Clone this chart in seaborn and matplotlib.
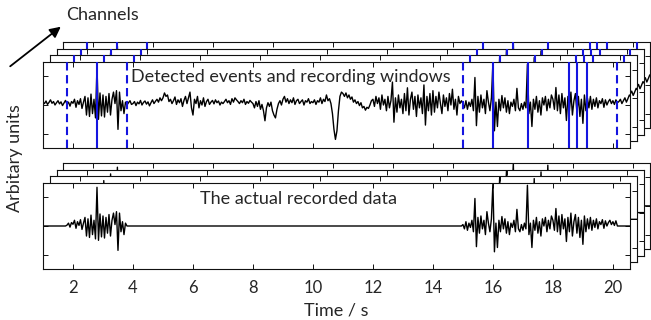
import numpy as np
import matplotlib
matplotlib.use("Agg")
import matplotlib.pyplot as plt
from matplotlib.patches import FancyArrowPatch
import seaborn as sns

# ---- data -------------------------------------------------------------
# Continuous trace, sampled every 0.05 s from t = 1.00 s (one row per second)
t_start = 1.0
dt = 0.05
trace = [
    0.10, 0.05, 0.14, 0.02, 0.09, 0.18, 0.06, 0.12, 0.00, 0.08, 0.15, 0.04, 0.11, -0.02, 0.07, 0.16, 0.03, 0.10, -0.04, 0.12,
    0.06, 0.20, -0.08, 0.15, 0.02, 0.22, -0.12, 0.10, 0.30, -0.35, 0.25, -0.40, 0.38, -0.30, 0.20, -0.45, 1.35, -0.50, 0.42, -0.38,
    0.35, -0.42, 0.30, -0.25, 0.40, -0.35, 0.20, 0.45, 0.05, 0.50, -0.85, 0.45, -0.20, 0.15, -0.30, 0.10, 0.00, 0.08, 0.15, 0.02,
    0.05, 0.12, -0.02, 0.10, 0.04, 0.16, 0.00, 0.09, 0.14, 0.03, 0.11, -0.03, 0.08, 0.18, 0.05, 0.13, 0.20, 0.10, 0.25, 0.15,
    0.25, 0.42, 0.30, 0.35, 0.12, 0.20, 0.05, 0.15, 0.28, 0.02, 0.18, 0.08, 0.22, -0.05, 0.16, 0.30, 0.05, 0.25, 0.45, -0.10,
    -0.35, 0.20, 0.05, 0.30, -0.10, 0.15, 0.00, 0.25, -0.05, 0.12, 0.20, 0.02, 0.10, 0.16, 0.04, 0.18, 0.08, 0.14, 0.00, 0.10,
    0.05, 0.12, 0.20, 0.08, 0.15, 0.02, 0.22, 0.10, 0.25, 0.18, 0.12, 0.05, 0.15, 0.08, 0.20, 0.02, 0.12, 0.06, 0.16, 0.10,
    0.05, -0.10, 0.12, -0.05, 0.15, -0.15, 0.02, -0.20, -0.55, -0.10, 0.08, -0.05, 0.10, -0.20, -0.35, -0.45, -0.15, 0.05, 0.15, 0.00,
    0.20, 0.30, 0.10, 0.22, 0.05, 0.18, 0.08, 0.25, 0.02, 0.15, 0.20, 0.05, 0.12, 0.18, 0.00, 0.15, 0.10, 0.22, 0.05, 0.12,
    0.08, 0.18, 0.02, 0.15, 0.10, 0.25, 0.05, 0.20, 0.12, 0.35, 0.15, 0.22, 0.05, -0.30, -0.85, -1.20, -0.90, -0.20, 0.30, 0.45,
    0.40, 0.30, 0.42, 0.25, 0.35, 0.20, 0.28, 0.10, 0.18, 0.05, 0.12, -0.02, 0.08, -0.10, -0.05, -0.18, -0.08, -0.12, 0.00, 0.15,
    0.20, -0.05, 0.30, 0.05, 0.25, -0.15, 0.35, 0.00, 0.20, -0.20, 0.30, -0.10, 0.15, 0.80, -0.60, 0.25, -0.25, 0.35, -0.10, 0.20,
    -0.30, 0.40, -0.20, 0.60, -0.35, 0.20, 0.45, -0.15, 0.30, -0.40, 0.35, -0.10, 0.25, -0.30, 0.70, -0.70, 0.30, -0.20, 0.40, -0.35,
    0.50, -0.25, 0.30, -0.10, 0.45, 0.05, -0.30, 0.35, -0.05, 0.25, -0.20, 0.40, 0.00, 0.55, -0.15, 0.20, -0.35, 0.30, 0.05, 0.15,
    0.05, -0.10, 0.15, -0.15, 0.10, -0.05, 0.20, -0.20, 0.96, -0.72, 0.30, -0.25, 0.35, -0.10, 0.20, -0.30, 0.50, 0.10, -0.20, 0.25,
    1.49, -0.90, 0.10, -0.75, 0.20, -0.20, 0.33, -0.10, 0.25, -0.25, 0.15, -0.30, 0.10, -0.05, 0.20, -0.20, 0.58, -0.10, -0.20, 0.05,
    -0.15, 0.10, -0.10, 1.42, -0.30, 0.10, -0.75, 0.20, -0.15, 0.30, -0.25, 0.15, -0.35, 0.25, 0.00, 0.30, -0.20, 0.20, -0.10, 0.35,
    0.20, -0.15, 0.61, -0.20, 0.35, -0.30, 0.40, -0.10, 0.25, -0.54, 0.30, -0.20, 0.45, -0.35, 0.15, 0.40, -0.25, 0.30, -0.40, 0.20,
    -0.64, 0.35, -0.20, 0.25, -0.10, 0.30, -0.15, 0.20, -0.05, 0.25, -0.10, 0.15, 0.05, 0.22, -0.08, 0.18, 0.00, 0.12, 0.20, 0.05,
    0.15, 0.02, 0.18, 0.08, 0.12, 0.20, 0.05, 0.15, 0.25, 0.10, 0.22, 0.35, 0.28,
]

# Detected events (solid) and the recording windows around them (dashed)
event_times = [2.8, 16.0, 17.17, 18.55, 18.8, 19.12]
window_starts = [1.8, 15.0]
window_ends = [3.8, 20.13]

x_ticks = [2, 4, 6, 8, 10, 12, 14, 16, 18, 20]
y_ticks = [-1, 0, 1]
x_range = (1.0, 20.57)
y_range = (-1.5, 1.5)
n_channels = 4

top_title = "Detected events and recording windows"
bottom_title = "The actual recorded data"
x_label = "Time / s"
y_label = "Arbitary units"
depth_label = "Channels"

# ---- derived series ---------------------------------------------------
times = t_start + dt * np.arange(len(trace))
signal = np.asarray(trace)
inside = np.zeros(len(times), dtype=bool)
for a, b in zip(window_starts, window_ends):
    inside |= (times >= a - 1e-9) & (times <= b + 1e-9)
recorded = np.where(inside, signal, 0.0)

# ---- style ------------------------------------------------------------
sns.set_style("white")
plt.rcParams["font.family"] = ["Lato", "DejaVu Sans"]
plt.rcParams["axes.linewidth"] = 0.8

W, H = 651, 320
fig = plt.figure(figsize=(W / 100, H / 100), dpi=100)
fig.patch.set_facecolor("white")

AX_LEFT, AX_W, AX_H = 43, 587, 86
DX, DY = 6.8, 6.7
BLUE = "#1515e0"
FS = 13


def px_axes(left, top, width, height):
    return fig.add_axes([left / W, 1 - (top + height) / H, width / W, height / H])


def channel_stack(top, values, show_events, show_xlabels):
    """Draw one stack of channels, back to front, each offset up and to the right."""
    front = None
    for k in range(n_channels - 1, -1, -1):
        ax = px_axes(AX_LEFT + k * DX, top - k * DY, AX_W, AX_H)
        ax.set_facecolor("white")
        sns.lineplot(x=times, y=values, ax=ax, color="black", linewidth=1.0,
                     sort=False, estimator=None)
        if show_events:
            for t in event_times:
                ax.axvline(t, color=BLUE, linewidth=1.5, zorder=5)
            for t in window_starts + window_ends:
                ax.axvline(t, color=BLUE, linewidth=1.5,
                           linestyle=(0, (4.0, 2.2)), zorder=5)
        ax.set_xlim(*x_range)
        ax.set_ylim(*y_range)
        ax.set_xticks(x_ticks)
        ax.set_yticks(y_ticks)
        ax.set_xlabel("")
        ax.set_ylabel("")
        ax.tick_params(direction="in", top=True, right=True, bottom=True, left=True,
                       length=3.8, width=0.7, color="#111111",
                       labelleft=False, labelbottom=(show_xlabels and k == 0),
                       labelsize=12, pad=8)
        for s in ax.spines.values():
            s.set_color("#111111")
            s.set_linewidth(0.8)
        front = ax
    return front


top_ax = channel_stack(62, signal, True, False)
bottom_ax = channel_stack(183, recorded, False, True)

fig.text(131 / W, 1 - 77 / H, top_title, fontsize=FS, va="center", ha="left")
fig.text(200 / W, 1 - 199 / H, bottom_title, fontsize=FS, va="center", ha="left")

fig.text(336 / W, 1 - 310 / H, x_label, fontsize=FS, va="center", ha="center")
fig.text(15 / W, 1 - 158 / H, y_label, fontsize=FS, va="center", ha="center", rotation=90)
fig.text(66 / W, 1 - 15 / H, depth_label, fontsize=FS, va="center", ha="left")

arrow = FancyArrowPatch((8 / W, 1 - 68 / H), (63 / W, 1 - 25 / H),
                        transform=fig.transFigure, arrowstyle="-|>",
                        mutation_scale=16, linewidth=1.3, color="black")
fig.add_artist(arrow)

fig.savefig("out.png", dpi=100, facecolor="white")
